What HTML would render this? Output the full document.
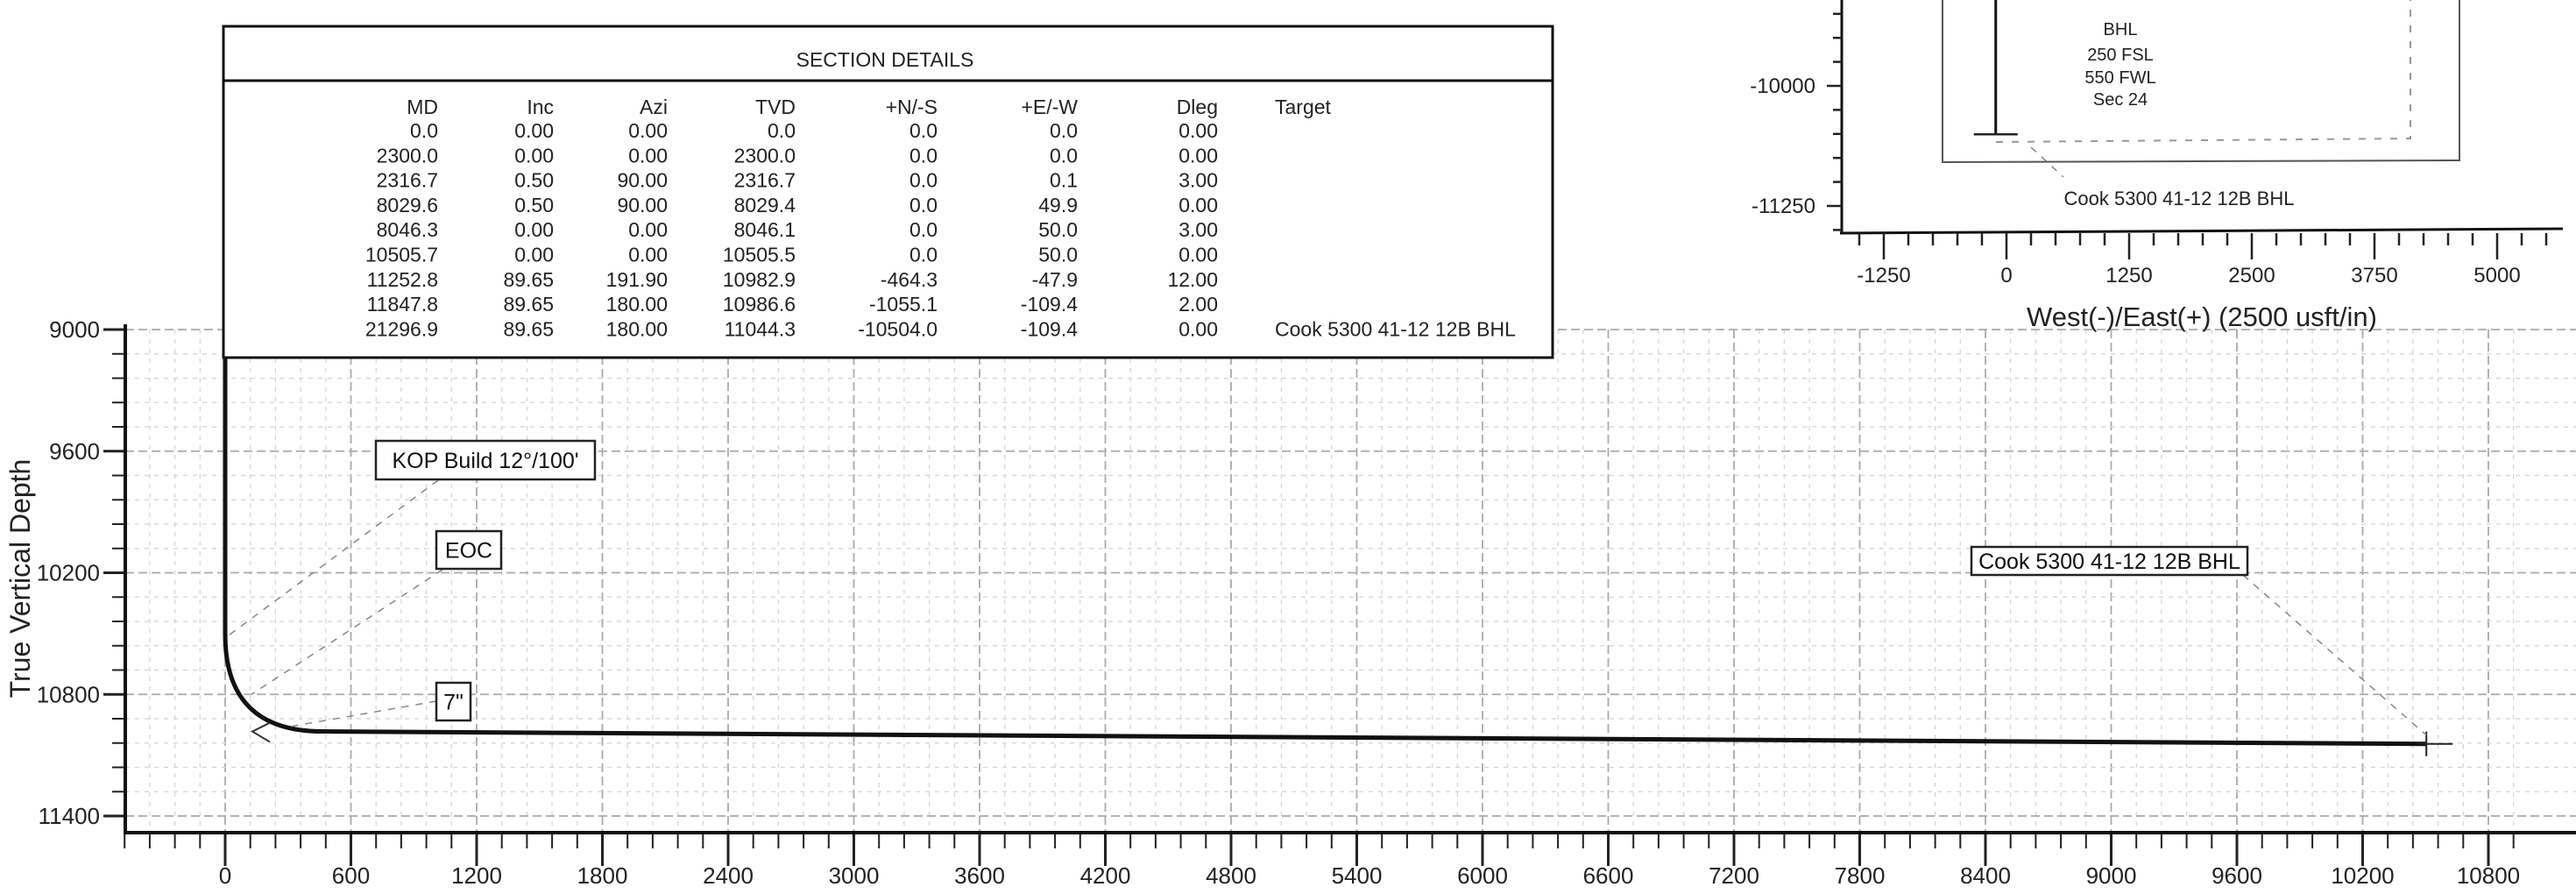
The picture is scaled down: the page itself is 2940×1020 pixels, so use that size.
<!DOCTYPE html>
<html><head><meta charset="utf-8"><style>
body{margin:0;background:#fff;}
svg{display:block;font-family:"Liberation Sans",sans-serif;}
</style></head><body>
<svg id="c" width="2940" height="1020" viewBox="0 0 2940 1020">
<g id="grid"></g>
<g id="axes"></g>
<g id="marks"></g>
<g id="table"></g>
<g id="inset"></g>
</svg>
<script>
const mdVals=[0.0,2300.0,2316.7,8029.6,8046.3,10505.7,11252.8,11847.8,21296.9];
const incVals=[0.00,0.00,0.50,0.50,0.00,0.00,89.65,89.65,89.65];
const aziVals=[0.00,0.00,90.00,90.00,0.00,0.00,191.90,180.00,180.00];
const tvdVals=[0.0,2300.0,2316.7,8029.4,8046.1,10505.5,10982.9,10986.6,11044.3];
const nsVals=[0.0,0.0,0.0,0.0,0.0,0.0,-464.3,-1055.1,-10504.0];
const ewVals=[0.0,0.0,0.1,49.9,50.0,50.0,-47.9,-109.4,-109.4];
const dlegVals=[0.00,0.00,3.00,0.00,3.00,0.00,12.00,2.00,0.00];
const targetVals=["","","","","","","","","Cook 5300 41-12 12B BHL"];
const xTickLabels=[0,600,1200,1800,2400,3000,3600,4200,4800,5400,6000,6600,7200,7800,8400,9000,9600,10200,10800];
const yTickLabels=[9000,9600,10200,10800,11400];
const insetXTicks=[-1250,0,1250,2500,3750,5000];
const insetYTicks=[-10000,-11250];

const NS='http://www.w3.org/2000/svg';
function mk(tag,attrs,parent,text){const e=document.createElementNS(NS,tag);for(const k in attrs)e.setAttribute(k,attrs[k]);if(text!==undefined)e.textContent=text;parent.appendChild(e);return e;}
const X=v=>257+v*143.5/600;
const Y=t=>376+(t-9000)*138.75/600;
const IX=e=>2290+e*140/1250;
const IY=n=>98+(-10000-n)*137/1250;
const grid=document.getElementById('grid'),axes=document.getElementById('axes'),marks=document.getElementById('marks'),table=document.getElementById('table'),inset=document.getElementById('inset');

for(let v=-480;v<=10920;v+=120){const maj=v%600===0;
 const l=mk('line',{x1:X(v),x2:X(v),y1:376,y2:950,stroke:maj?'#aaa':'#d4d4d4','stroke-width':maj?1.8:1.2,'stroke-dasharray':maj?'10 5':'5 6'},grid);
 
 const t=mk('line',{x1:X(v),x2:X(v),y1:950,y2:maj?988:968,stroke:'#222','stroke-width':maj?3:2},axes);
 }
for(let t=9000;t<=11460;t+=120){const maj=(t-9000)%600===0;
 const l=mk('line',{x1:143,x2:2940,y1:Y(t),y2:Y(t),stroke:maj?'#aaa':'#d4d4d4','stroke-width':maj?1.8:1.2,'stroke-dasharray':maj?'10 5':'5 6'},grid);
 
 const k=mk('line',{x1:maj?118:128,x2:143,y1:Y(t),y2:Y(t),stroke:'#222','stroke-width':maj?3:2},axes);
 }
let a=mk('line',{x1:143,x2:143,y1:370,y2:952,stroke:'#111','stroke-width':4},axes);
a=mk('line',{x1:141,x2:2940,y1:950,y2:950,stroke:'#111','stroke-width':4},axes);
xTickLabels.forEach(v=>{const t=mk('text',{x:X(v),y:1008,'font-size':26,'text-anchor':'middle',fill:'#222'},axes,String(v));});
yTickLabels.forEach(v=>{const t=mk('text',{x:114,y:Y(v)+9,'font-size':26,'text-anchor':'end',fill:'#222'},axes,String(v));});
a=mk('text',{x:0,y:0,'font-size':32,'text-anchor':'middle',fill:'#222',transform:'translate(34,660) rotate(-90)'},axes,'True Vertical Depth');

const vs=nsVals.map(n=>-n);
let d='M'+X(vs[0])+','+Y(Math.max(tvdVals[0],9000));
d+=' L'+X(vs[5])+','+Y(tvdVals[5]);
d+=' Q'+X(vs[5])+','+Y(tvdVals[6])+' '+X(vs[6])+','+Y(tvdVals[6]);
for(let i=7;i<vs.length;i++)d+=' L'+X(vs[i])+','+Y(tvdVals[i]);
a=mk('path',{d:d,fill:'none',stroke:'#111','stroke-width':5},marks);
const ex=X(vs[8]),ey=Y(tvdVals[8]);
a=mk('line',{x1:ex,x2:ex,y1:ey-14,y2:ey+14,stroke:'#222','stroke-width':2},marks);
mk('line',{x1:ex-10,x2:ex+30,y1:ey,y2:ey,stroke:'#222','stroke-width':2},marks);
a=mk('path',{d:`M${X(vs[6])-60},${Y(tvdVals[6])-10} l-20,10 l20,12`,fill:'none',stroke:'#333','stroke-width':2},marks);

function label(x,y,w,h,txt,name){const g=mk('g',{},marks);
 mk('rect',{x:x,y:y,width:w,height:h,fill:'#fff',stroke:'#222','stroke-width':2.5},g);
 mk('text',{x:x+w/2,y:y+h/2+9,'font-size':25,'text-anchor':'middle',fill:'#111'},g,txt);}
function leader(x1,y1,x2,y2,name){const l=mk('line',{x1,y1,x2,y2,stroke:'#888','stroke-width':1.5,'stroke-dasharray':'8 8'},marks);}
leader(500,548,X(0)+5,Y(10505.5),'kop-leader');
leader(505,650,X(0)+30,Y(10800),'eoc-leader');
leader(498,800,X(vs[6])-40,Y(tvdVals[6])-5,'casing-leader');
leader(2560,656,ex,ey-10,'bhl-leader');
label(429,503,250,44,"KOP Build 12°/100'",'kop-label');
label(498,606,74,43,'EOC','eoc-label');
label(498,779,39,43,'7"','casing-label');
label(2250,624,315,32,'Cook 5300 41-12 12B BHL','bhl-label');

a=mk('rect',{x:255,y:30,width:1517,height:378,fill:'#fff',stroke:'#111','stroke-width':3},table);
mk('line',{x1:255,x2:1772,y1:92,y2:92,stroke:'#111','stroke-width':3},table);
a=mk('text',{x:1010,y:76,'font-size':23,'text-anchor':'middle',fill:'#222'},table,'SECTION DETAILS');
const colX=[500,632,762,908,1070,1230,1390];
const heads=['MD','Inc','Azi','TVD','+N/-S','+E/-W','Dleg'];
heads.forEach((h,i)=>{const t=mk('text',{x:colX[i],y:130,'font-size':23,'text-anchor':'end',fill:'#222'},table,h);});
a=mk('text',{x:1455,y:130,'font-size':23,fill:'#222'},table,'Target');
mdVals.forEach((m,r)=>{const y=157+r*28.3;
 const vals=[m.toFixed(1),incVals[r].toFixed(2),aziVals[r].toFixed(2),tvdVals[r].toFixed(1),nsVals[r].toFixed(1),ewVals[r].toFixed(1),dlegVals[r].toFixed(2)];
 vals.forEach((v,i)=>{const t=mk('text',{x:colX[i],y:y,'font-size':23,'text-anchor':'end',fill:'#222'},table,v);});
 if(targetVals[r]){const t=mk('text',{x:1455,y:y,'font-size':23,fill:'#222'},table,targetVals[r]);}
});

a=mk('line',{x1:2102,x2:2102,y1:0,y2:266,stroke:'#111','stroke-width':3},inset);
a=mk('line',{x1:2100,x2:2925,y1:266,y2:261,stroke:'#111','stroke-width':3},inset);
for(let n=-9000;n>=-11500;n-=250){const maj=insetYTicks.includes(n);const t=mk('line',{x1:maj?2085:2092,x2:2102,y1:IY(n),y2:IY(n),stroke:'#222','stroke-width':2.5},inset);}
for(let e=-1500;e<=5500;e+=250){const maj=insetXTicks.includes(e);const t=mk('line',{x1:IX(e),x2:IX(e),y1:266,y2:maj?296:280,stroke:'#222','stroke-width':2.5},inset);}
insetXTicks.forEach(v=>{const t=mk('text',{x:IX(v),y:322,'font-size':24,'text-anchor':'middle',fill:'#222'},inset,String(v));});
insetYTicks.forEach(v=>{const t=mk('text',{x:2072,y:IY(v)+8,'font-size':24,'text-anchor':'end',fill:'#222'},inset,String(v));});
a=mk('text',{x:2513,y:372,'font-size':31,'text-anchor':'middle',fill:'#222'},inset,'West(-)/East(+) (2500 usft/in)');
a=mk('path',{d:'M2217,0 L2217,185 L2807,183 L2807,0',fill:'none',stroke:'#555','stroke-width':2},inset);
a=mk('path',{d:'M2278,162 L2751,158 L2751,0',fill:'none',stroke:'#999','stroke-width':2,'stroke-dasharray':'8 10'},inset);
let pd='M'+IX(ewVals[0])+',0';for(let i=6;i<ewVals.length;i++)pd+=' L'+IX(ewVals[i])+','+IY(nsVals[i]);
a=mk('path',{d:pd,fill:'none',stroke:'#111','stroke-width':3},inset);
a=mk('line',{x1:IX(ewVals[8])-25,x2:IX(ewVals[8])+25,y1:IY(nsVals[8]),y2:IY(nsVals[8]),stroke:'#222','stroke-width':2.5},inset);
leader(2318,168,2355,202,'plan-bhl-leader');
['BHL','250 FSL','550 FWL','Sec 24'].forEach((s,i)=>{const t=mk('text',{x:2420,y:[40,69,95,120][i],'font-size':20,'text-anchor':'middle',fill:'#222'},inset,s);});
a=mk('text',{x:2487,y:234,'font-size':22,'text-anchor':'middle',fill:'#222'},inset,'Cook 5300 41-12 12B BHL');
</script>
</body></html>
